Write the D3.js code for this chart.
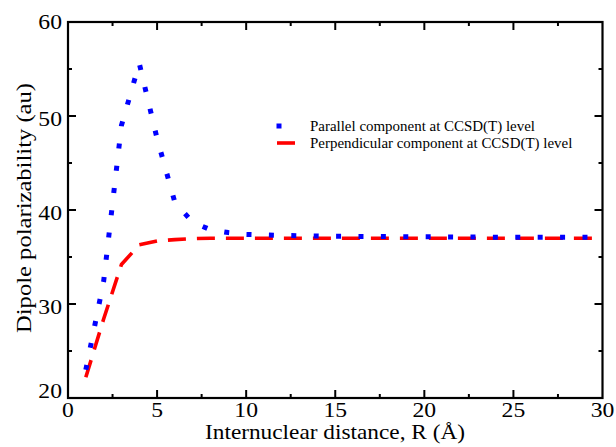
<!DOCTYPE html>
<html>
<head>
<meta charset="utf-8">
<script src="https://cdn.jsdelivr.net/npm/d3@7"></script>
<style>
  body { margin: 0; background: #fff; }
  svg text { font-family: "Liberation Serif", "Times New Roman", serif; fill: #000; }
</style>
</head>
<body>
<svg id="chart" width="616" height="447"></svg>
<script>
// data
let parallelR = [1, 2, 3, 4, 5, 6, 7, 8, 9, 10, 12, 15, 20, 25, 30]
let parallelA = [23.0, 32.4, 49.0, 55.6, 47.6, 40.8, 38.7, 37.9, 37.6, 37.4, 37.3, 37.2, 37.15, 37.1, 37.1]
let perpR = [1, 2, 3, 4, 5, 6, 7, 8, 10, 15, 20, 25, 30]
let perpA = [22.2, 28.4, 34.2, 36.3, 36.7, 36.85, 36.95, 37.0, 37.0, 37.0, 37.0, 37.0, 37.0]
let xTicks = [0, 5, 10, 15, 20, 25, 30]
let yTicks = [20, 30, 40, 50, 60]
let legendLabels = ["Parallel component at CCSD(T) level", "Perpendicular component at CCSD(T) level"]

let margin = { top: 22, right: 13.5, bottom: 49, left: 68 }
let width = 616, height = 447
let svg = d3.select("#chart")

let x = d3.scaleLinear().domain([0, 30]).range([margin.left, width - margin.right])
let y = d3.scaleLinear().domain([20, 60]).range([height - margin.bottom, margin.top])

let line = d3.line().x(d => x(d[0])).y(d => y(d[1]))

// red dashed first, blue dots on top
svg.append("path")
  .datum(d3.zip(perpR, perpA))
  .attr("d", line)
  .attr("fill", "none")
  .attr("stroke", "#ff0000")
  .attr("stroke-width", 3.6)
  .attr("stroke-dasharray", "18,11")

svg.append("path")
  .datum(d3.zip(parallelR, parallelA))
  .attr("d", line)
  .attr("fill", "none")
  .attr("stroke", "#0000ff")
  .attr("stroke-width", 5)
  .attr("stroke-dasharray", "5,17.4")

// frame
let x0 = x.range()[0], x1 = x.range()[1], y0 = y.range()[0], y1 = y.range()[1]
svg.append("rect")
  .attr("x", x0).attr("y", y1).attr("width", x1 - x0).attr("height", y0 - y1)
  .attr("fill", "none").attr("stroke", "#000").attr("stroke-width", 2.2)

let ticks = svg.append("g").attr("stroke", "#000").attr("stroke-width", 2)
let xMinor = d3.range(2.5, 30, 5)
let yMinor = d3.range(25, 60, 10)

xTicks.slice(1, -1).forEach(v => {
  ticks.append("line").attr("x1", x(v)).attr("x2", x(v)).attr("y1", y0).attr("y2", y0 - 8)
  ticks.append("line").attr("x1", x(v)).attr("x2", x(v)).attr("y1", y1).attr("y2", y1 + 8)
})
xMinor.forEach(v => {
  ticks.append("line").attr("x1", x(v)).attr("x2", x(v)).attr("y1", y0).attr("y2", y0 - 4)
  ticks.append("line").attr("x1", x(v)).attr("x2", x(v)).attr("y1", y1).attr("y2", y1 + 4)
})
yTicks.slice(1, -1).forEach(v => {
  ticks.append("line").attr("x1", x0).attr("x2", x0 + 8).attr("y1", y(v)).attr("y2", y(v))
  ticks.append("line").attr("x1", x1).attr("x2", x1 - 8).attr("y1", y(v)).attr("y2", y(v))
})
yMinor.forEach(v => {
  ticks.append("line").attr("x1", x0).attr("x2", x0 + 4).attr("y1", y(v)).attr("y2", y(v))
  ticks.append("line").attr("x1", x1).attr("x2", x1 - 4).attr("y1", y(v)).attr("y2", y(v))
})

// tick labels (the original font is a little wide, so stretch it)
let stretch = 1.1
svg.append("g").selectAll("text").data(xTicks).join("text")
  .attr("transform", d => `translate(${x(d)},${y0 + 19}) scale(${stretch},1)`)
  .attr("text-anchor", "middle").attr("font-size", 21.5)
  .text(d => d)

let yLabelShift = d => d === 20 ? 0 : d === 60 ? 7 : 10
svg.append("g").selectAll("text").data(yTicks).join("text")
  .attr("transform", d => `translate(${x0 - 6},${y(d) + yLabelShift(d)}) scale(${stretch},1)`)
  .attr("text-anchor", "end").attr("font-size", 21.5)
  .text(d => d)

// axis titles
svg.append("text")
  .attr("x", 335).attr("y", 439)
  .attr("text-anchor", "middle").attr("font-size", 21.5)
  .attr("textLength", 260).attr("lengthAdjust", "spacingAndGlyphs")
  .text("Internuclear distance, R (Å)")

svg.append("text")
  .attr("transform", `translate(31,208) rotate(-90)`)
  .attr("text-anchor", "middle").attr("font-size", 21.5)
  .attr("textLength", 250).attr("lengthAdjust", "spacingAndGlyphs")
  .text("Dipole polarizability (au)")

// legend
let legend = svg.append("g")
legend.append("rect").attr("x", 276.5).attr("y", 123.5).attr("width", 5).attr("height", 5).attr("fill", "#0000ff")
legend.append("line").attr("x1", 277).attr("x2", 295).attr("y1", 143).attr("y2", 143)
  .attr("stroke", "#ff0000").attr("stroke-width", 3.6)
legend.selectAll("text").data(legendLabels).join("text")
  .attr("transform", (d, i) => `translate(310,${130.5 + i * 17}) scale(${stretch},1)`)
  .attr("font-size", 13.6)
  .text(d => d)
</script>
</body>
</html>
